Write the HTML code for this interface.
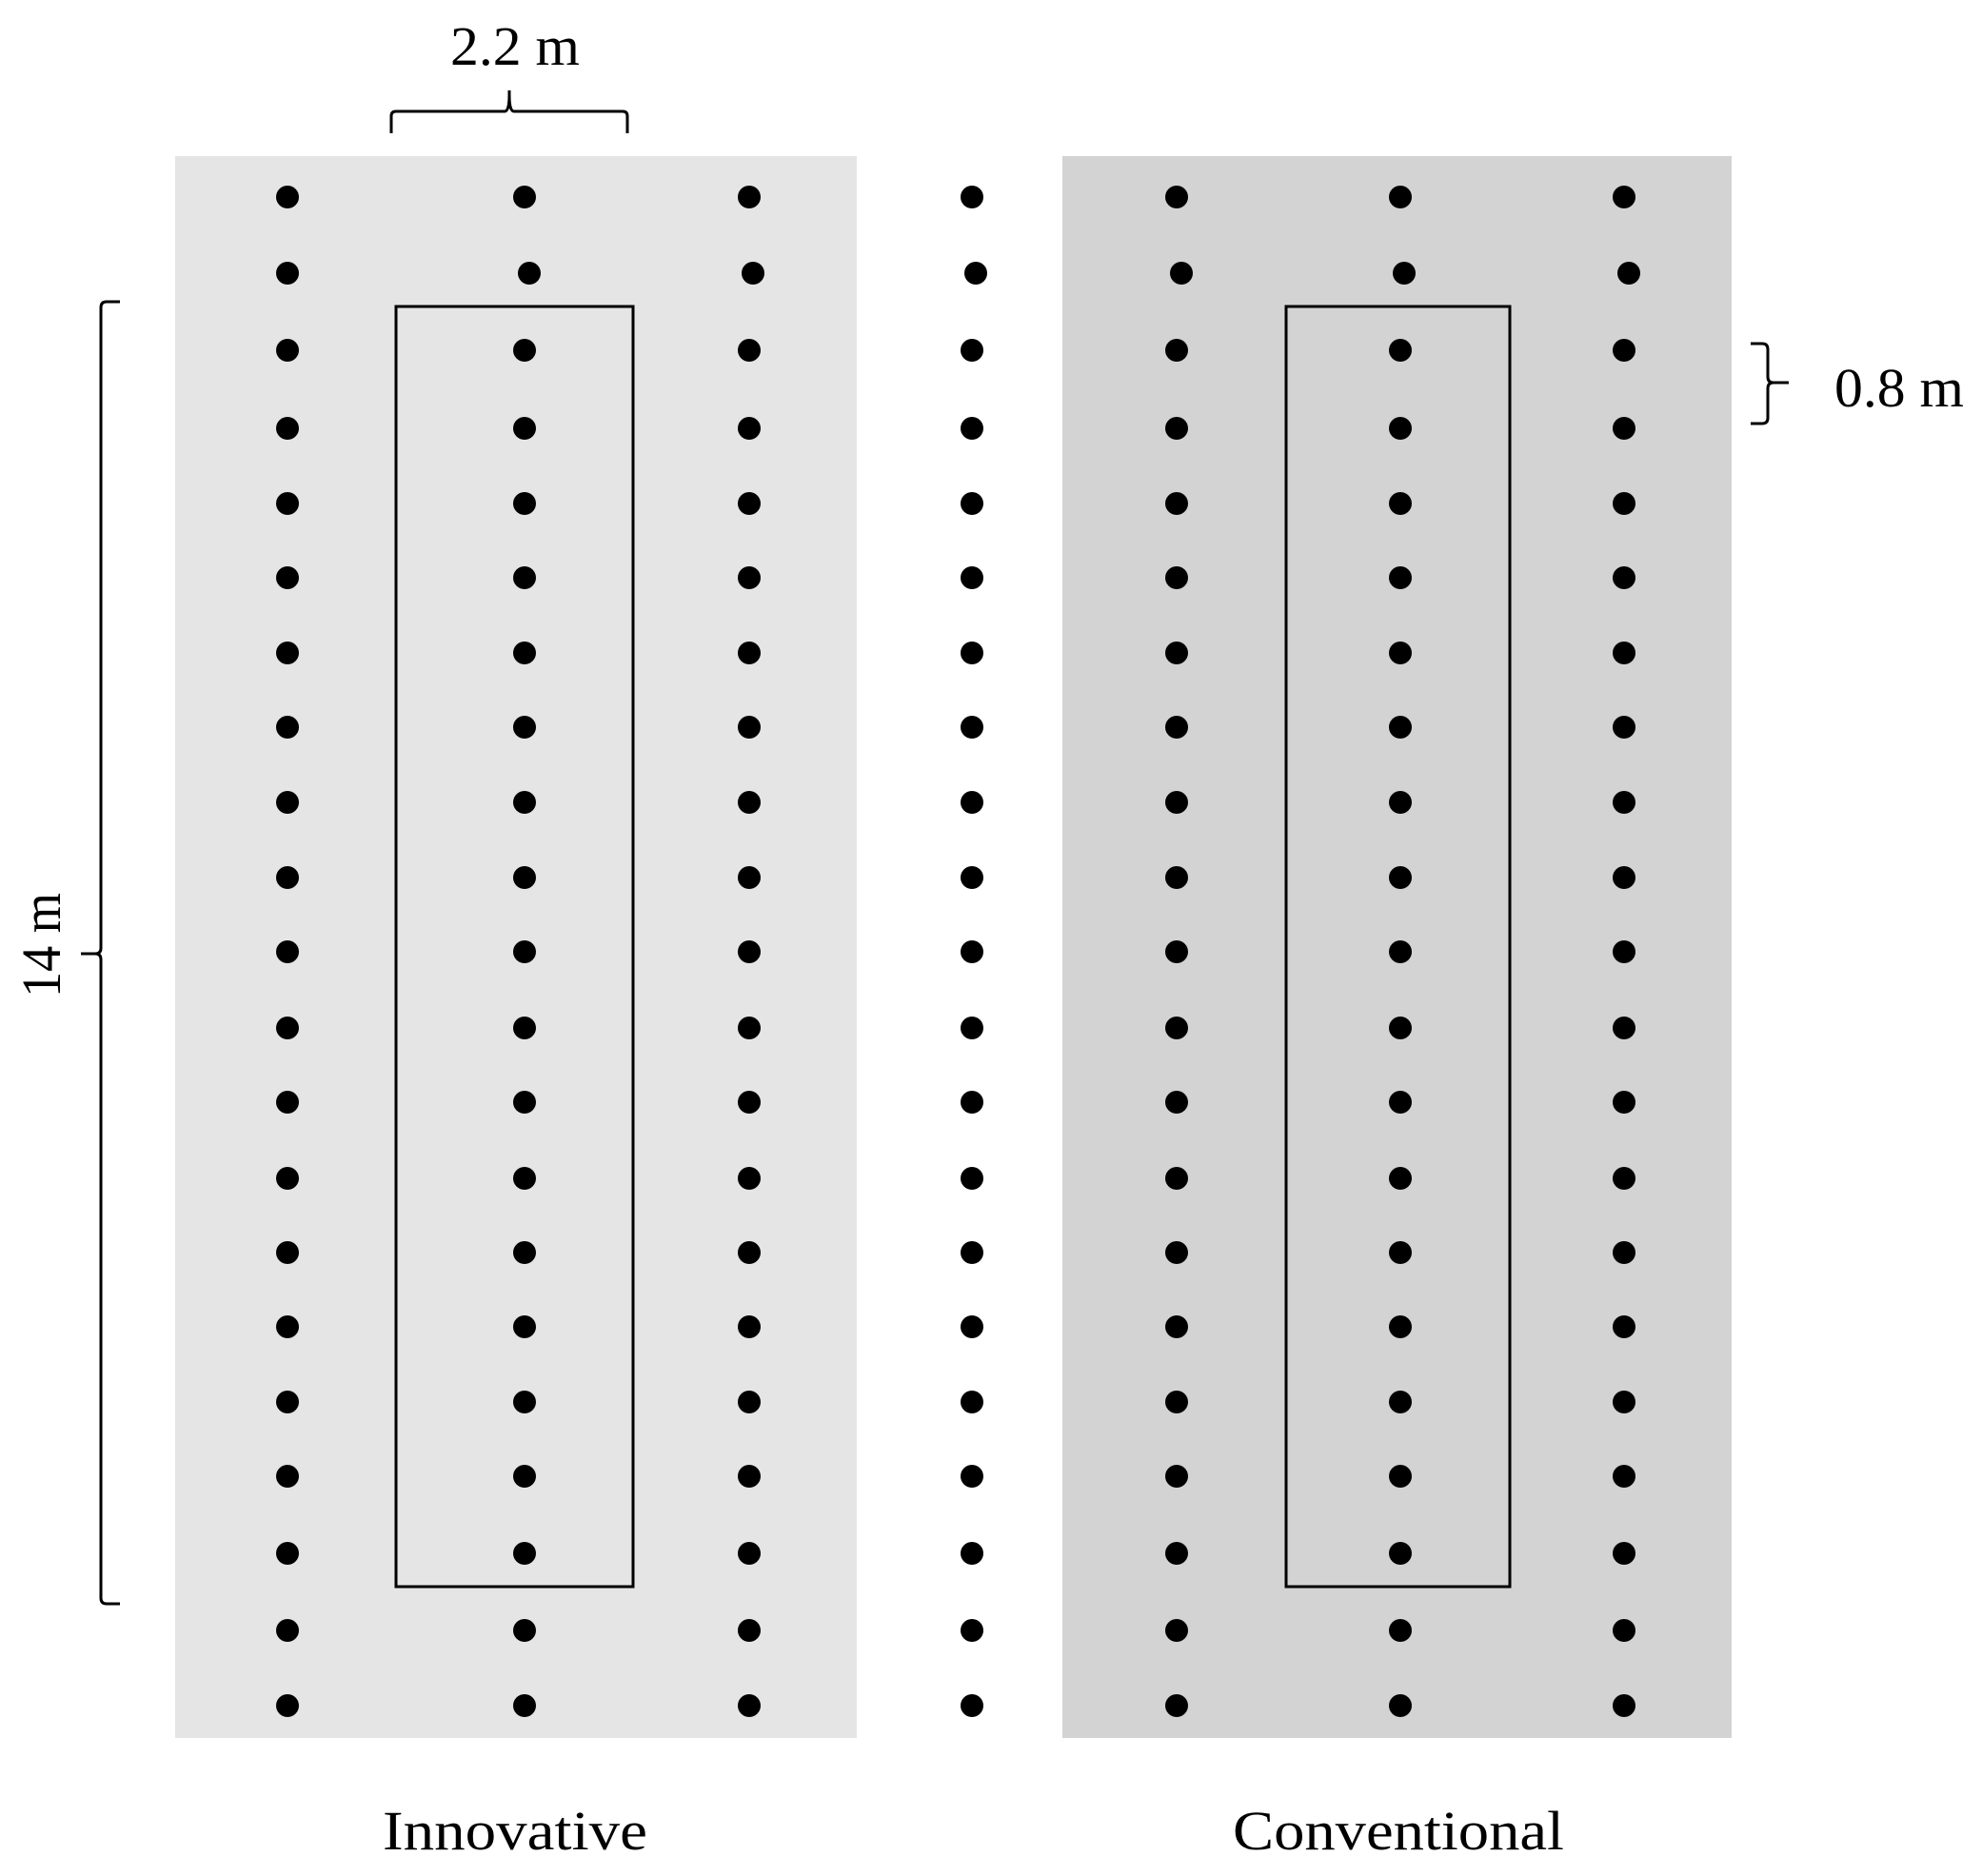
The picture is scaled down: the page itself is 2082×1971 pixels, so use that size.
<!DOCTYPE html>
<html><head><meta charset="utf-8"><style>html,body{margin:0;padding:0;background:#fff}svg{display:block}</style></head>
<body>
<svg width="2082" height="1971" viewBox="0 0 2082 1971" xmlns="http://www.w3.org/2000/svg">
<rect x="184" y="164" width="716" height="1662" fill="#e5e5e5"/>
<rect x="1116" y="164" width="703" height="1662" fill="#d3d3d3"/>
<g fill="none" stroke="#000" stroke-width="3">
<rect x="416" y="322" width="249" height="1345"/>
<rect x="1351" y="322" width="235" height="1345"/>
<path d="M411 140 V122 Q411 117 416 117 H530 Q535 117 535 100 V95 M535 100 Q535 117 540 117 H654 Q659 117 659 122 V140"/>
<path d="M126 317 H112 Q106 317 106 323 V996 Q106 1002 100 1002 H85 M100 1002 Q106 1002 106 1008 V1679 Q106 1685 112 1685 H126"/>
<path d="M1839 361 H1851 Q1857 361 1857 367 V396 Q1857 402 1863 402 H1879 M1863 402 Q1857 402 1857 408 V439 Q1857 445 1851 445 H1839"/>
</g>
<g font-family="'Liberation Serif', serif" font-size="58" fill="#000">
<text x="541" y="68" text-anchor="middle" textLength="136" lengthAdjust="spacingAndGlyphs">2.2 m</text>
<text x="1995" y="427" text-anchor="middle" textLength="136" lengthAdjust="spacingAndGlyphs">0.8 m</text>
<text x="541" y="1943" text-anchor="middle" textLength="278" lengthAdjust="spacingAndGlyphs">Innovative</text>
<text x="1469" y="1943" text-anchor="middle" textLength="348" lengthAdjust="spacingAndGlyphs">Conventional</text>
<text transform="translate(63,993) rotate(-90)" text-anchor="middle" textLength="110" lengthAdjust="spacingAndGlyphs">14 m</text>
</g>
<g fill="#000">
<circle cx="302" cy="207" r="12"/><circle cx="551" cy="207" r="12"/><circle cx="787" cy="207" r="12"/><circle cx="1021" cy="207" r="12"/><circle cx="1236" cy="207" r="12"/><circle cx="1471" cy="207" r="12"/><circle cx="1706" cy="207" r="12"/>
<circle cx="302" cy="287" r="12"/><circle cx="556" cy="287" r="12"/><circle cx="791" cy="287" r="12"/><circle cx="1025" cy="287" r="12"/><circle cx="1241" cy="287" r="12"/><circle cx="1475" cy="287" r="12"/><circle cx="1711" cy="287" r="12"/>
<circle cx="302" cy="368" r="12"/><circle cx="551" cy="368" r="12"/><circle cx="787" cy="368" r="12"/><circle cx="1021" cy="368" r="12"/><circle cx="1236" cy="368" r="12"/><circle cx="1471" cy="368" r="12"/><circle cx="1706" cy="368" r="12"/>
<circle cx="302" cy="450" r="12"/><circle cx="551" cy="450" r="12"/><circle cx="787" cy="450" r="12"/><circle cx="1021" cy="450" r="12"/><circle cx="1236" cy="450" r="12"/><circle cx="1471" cy="450" r="12"/><circle cx="1706" cy="450" r="12"/>
<circle cx="302" cy="529" r="12"/><circle cx="551" cy="529" r="12"/><circle cx="787" cy="529" r="12"/><circle cx="1021" cy="529" r="12"/><circle cx="1236" cy="529" r="12"/><circle cx="1471" cy="529" r="12"/><circle cx="1706" cy="529" r="12"/>
<circle cx="302" cy="607" r="12"/><circle cx="551" cy="607" r="12"/><circle cx="787" cy="607" r="12"/><circle cx="1021" cy="607" r="12"/><circle cx="1236" cy="607" r="12"/><circle cx="1471" cy="607" r="12"/><circle cx="1706" cy="607" r="12"/>
<circle cx="302" cy="686" r="12"/><circle cx="551" cy="686" r="12"/><circle cx="787" cy="686" r="12"/><circle cx="1021" cy="686" r="12"/><circle cx="1236" cy="686" r="12"/><circle cx="1471" cy="686" r="12"/><circle cx="1706" cy="686" r="12"/>
<circle cx="302" cy="764" r="12"/><circle cx="551" cy="764" r="12"/><circle cx="787" cy="764" r="12"/><circle cx="1021" cy="764" r="12"/><circle cx="1236" cy="764" r="12"/><circle cx="1471" cy="764" r="12"/><circle cx="1706" cy="764" r="12"/>
<circle cx="302" cy="843" r="12"/><circle cx="551" cy="843" r="12"/><circle cx="787" cy="843" r="12"/><circle cx="1021" cy="843" r="12"/><circle cx="1236" cy="843" r="12"/><circle cx="1471" cy="843" r="12"/><circle cx="1706" cy="843" r="12"/>
<circle cx="302" cy="922" r="12"/><circle cx="551" cy="922" r="12"/><circle cx="787" cy="922" r="12"/><circle cx="1021" cy="922" r="12"/><circle cx="1236" cy="922" r="12"/><circle cx="1471" cy="922" r="12"/><circle cx="1706" cy="922" r="12"/>
<circle cx="302" cy="1000" r="12"/><circle cx="551" cy="1000" r="12"/><circle cx="787" cy="1000" r="12"/><circle cx="1021" cy="1000" r="12"/><circle cx="1236" cy="1000" r="12"/><circle cx="1471" cy="1000" r="12"/><circle cx="1706" cy="1000" r="12"/>
<circle cx="302" cy="1080" r="12"/><circle cx="551" cy="1080" r="12"/><circle cx="787" cy="1080" r="12"/><circle cx="1021" cy="1080" r="12"/><circle cx="1236" cy="1080" r="12"/><circle cx="1471" cy="1080" r="12"/><circle cx="1706" cy="1080" r="12"/>
<circle cx="302" cy="1158" r="12"/><circle cx="551" cy="1158" r="12"/><circle cx="787" cy="1158" r="12"/><circle cx="1021" cy="1158" r="12"/><circle cx="1236" cy="1158" r="12"/><circle cx="1471" cy="1158" r="12"/><circle cx="1706" cy="1158" r="12"/>
<circle cx="302" cy="1238" r="12"/><circle cx="551" cy="1238" r="12"/><circle cx="787" cy="1238" r="12"/><circle cx="1021" cy="1238" r="12"/><circle cx="1236" cy="1238" r="12"/><circle cx="1471" cy="1238" r="12"/><circle cx="1706" cy="1238" r="12"/>
<circle cx="302" cy="1316" r="12"/><circle cx="551" cy="1316" r="12"/><circle cx="787" cy="1316" r="12"/><circle cx="1021" cy="1316" r="12"/><circle cx="1236" cy="1316" r="12"/><circle cx="1471" cy="1316" r="12"/><circle cx="1706" cy="1316" r="12"/>
<circle cx="302" cy="1394" r="12"/><circle cx="551" cy="1394" r="12"/><circle cx="787" cy="1394" r="12"/><circle cx="1021" cy="1394" r="12"/><circle cx="1236" cy="1394" r="12"/><circle cx="1471" cy="1394" r="12"/><circle cx="1706" cy="1394" r="12"/>
<circle cx="302" cy="1473" r="12"/><circle cx="551" cy="1473" r="12"/><circle cx="787" cy="1473" r="12"/><circle cx="1021" cy="1473" r="12"/><circle cx="1236" cy="1473" r="12"/><circle cx="1471" cy="1473" r="12"/><circle cx="1706" cy="1473" r="12"/>
<circle cx="302" cy="1551" r="12"/><circle cx="551" cy="1551" r="12"/><circle cx="787" cy="1551" r="12"/><circle cx="1021" cy="1551" r="12"/><circle cx="1236" cy="1551" r="12"/><circle cx="1471" cy="1551" r="12"/><circle cx="1706" cy="1551" r="12"/>
<circle cx="302" cy="1632" r="12"/><circle cx="551" cy="1632" r="12"/><circle cx="787" cy="1632" r="12"/><circle cx="1021" cy="1632" r="12"/><circle cx="1236" cy="1632" r="12"/><circle cx="1471" cy="1632" r="12"/><circle cx="1706" cy="1632" r="12"/>
<circle cx="302" cy="1713" r="12"/><circle cx="551" cy="1713" r="12"/><circle cx="787" cy="1713" r="12"/><circle cx="1021" cy="1713" r="12"/><circle cx="1236" cy="1713" r="12"/><circle cx="1471" cy="1713" r="12"/><circle cx="1706" cy="1713" r="12"/>
<circle cx="302" cy="1792" r="12"/><circle cx="551" cy="1792" r="12"/><circle cx="787" cy="1792" r="12"/><circle cx="1021" cy="1792" r="12"/><circle cx="1236" cy="1792" r="12"/><circle cx="1471" cy="1792" r="12"/><circle cx="1706" cy="1792" r="12"/>
</g>
</svg>
</body></html>
